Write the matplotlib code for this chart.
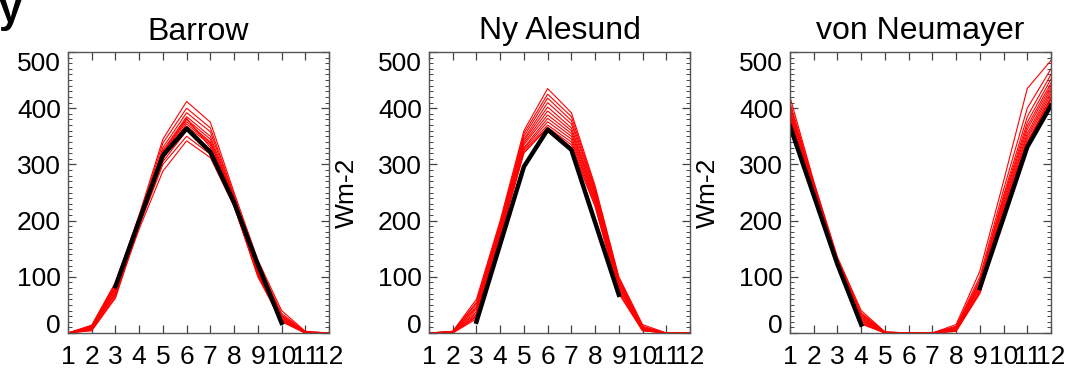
import numpy as np
import matplotlib.pyplot as plt
from matplotlib.ticker import MultipleLocator

months = list(range(1, 13))
stations = ["Barrow", "Ny Alesund", "von Neumayer"]

# observations (black), None where missing
barrow_obs = [None, None, 83, 200, 316, 364, 322, 232, 122, 18, None, None]
nyalesund_obs = [None, None, 20, 158, 296, 362, 326, 197, 68, None, None, None]
neumayer_obs = [368, 245, 122, 15, None, None, None, None, 80, 205, 331, 405]

# model runs (red)
barrow_models = [
    [0, 12, 88, 210, 345, 412, 375, 250, 130, 40, 3, 0],
    [0, 10, 80, 205, 338, 400, 365, 245, 125, 35, 2, 0],
    [0, 8, 75, 200, 330, 392, 358, 242, 122, 32, 2, 0],
    [0, 14, 90, 208, 325, 385, 350, 240, 118, 30, 1, 0],
    [0, 6, 70, 198, 320, 380, 345, 238, 115, 28, 1, 0],
    [0, 11, 85, 204, 318, 376, 340, 236, 112, 26, 0, 0],
    [0, 9, 78, 200, 315, 372, 338, 234, 110, 25, 0, 0],
    [0, 5, 65, 195, 310, 368, 335, 232, 108, 22, 0, 0],
    [0, 13, 82, 202, 322, 382, 330, 230, 105, 30, 1, 0],
    [0, 7, 72, 196, 305, 360, 325, 228, 102, 24, 0, 0],
    [0, 4, 62, 190, 300, 350, 318, 226, 100, 20, 0, 0],
    [0, 10, 68, 185, 288, 342, 312, 225, 104, 22, 0, 0],
]
nyalesund_models = [
    [0, 3, 60, 200, 360, 435, 392, 262, 100, 15, 0, 0],
    [0, 2, 55, 196, 355, 425, 385, 258, 98, 12, 0, 0],
    [0, 3, 52, 192, 350, 418, 378, 255, 95, 10, 0, 0],
    [0, 2, 48, 190, 345, 410, 372, 252, 92, 10, 0, 0],
    [0, 1, 45, 188, 342, 402, 365, 248, 90, 8, 0, 0],
    [0, 2, 42, 185, 338, 395, 360, 245, 88, 8, 0, 0],
    [0, 1, 38, 182, 335, 388, 355, 242, 85, 6, 0, 0],
    [0, 2, 35, 180, 330, 382, 350, 238, 82, 6, 0, 0],
    [0, 1, 32, 176, 328, 376, 345, 235, 80, 5, 0, 0],
    [0, 0, 30, 174, 325, 370, 340, 232, 76, 5, 0, 0],
    [0, 1, 28, 172, 322, 366, 335, 228, 72, 4, 0, 0],
    [0, 0, 25, 170, 320, 365, 330, 225, 70, 4, 0, 0],
]
neumayer_models = [
    [420, 270, 135, 40, 2, 0, 0, 15, 110, 270, 435, 485],
    [410, 268, 132, 36, 2, 0, 0, 12, 100, 255, 400, 470],
    [405, 265, 130, 34, 1, 0, 0, 10, 95, 245, 385, 460],
    [400, 262, 128, 32, 1, 0, 0, 10, 92, 240, 375, 452],
    [395, 260, 126, 30, 1, 0, 0, 8, 88, 235, 368, 445],
    [392, 258, 125, 28, 0, 0, 0, 8, 85, 230, 362, 440],
    [388, 256, 124, 26, 0, 0, 0, 6, 82, 226, 355, 435],
    [385, 254, 123, 24, 0, 0, 0, 6, 80, 222, 350, 430],
    [382, 252, 122, 22, 0, 0, 0, 5, 76, 218, 345, 425],
    [380, 251, 121, 20, 0, 0, 0, 4, 74, 215, 340, 420],
    [378, 250, 120, 18, 0, 0, 0, 3, 72, 212, 338, 418],
    [375, 250, 120, 16, 0, 0, 0, 3, 70, 210, 335, 415],
]

obs = [barrow_obs, nyalesund_obs, neumayer_obs]
models = [barrow_models, nyalesund_models, neumayer_models]

W, H = 1073, 374
fig = plt.figure(figsize=(W / 100, H / 100), dpi=100)
plt.rcParams['font.family'] = ['Liberation Sans', 'DejaVu Sans']

lefts = [68, 429, 790]
ax_w, top, bottom = 261, 52, 333

for k in range(3):
    ax = fig.add_axes([lefts[k] / W, 1 - bottom / H, ax_w / W, (bottom - top) / H])
    for run in models[k]:
        ax.plot(months, run, color="red", lw=0.8, solid_joinstyle="miter")
    o = np.array([np.nan if v is None else v for v in obs[k]], dtype=float)
    ax.plot(months, o, color="black", lw=3.2)

    ax.set_xlim(1, 12)
    ax.set_ylim(0, 500)
    ax.set_xticks(months)
    ax.set_xticklabels([str(m) for m in months], fontsize=19)
    ax.set_yticks([0, 100, 200, 300, 400, 500])
    ax.set_yticklabels(["0", "100", "200", "300", "400", "500"], fontsize=19)
    ax.yaxis.set_minor_locator(MultipleLocator(10))
    ax.tick_params(which="both", direction="in", top=True, right=True, color="#444444")
    ax.tick_params(which="major", length=6, width=0.9)
    ax.tick_params(which="minor", length=3, width=0.7)
    ax.tick_params(axis="x", pad=9)
    ax.tick_params(axis="y", pad=5)
    labs = ax.get_yticklabels()
    labs[0].set_va("baseline")
    labs[-1].set_va("top")
    for s in ax.spines.values():
        s.set_color("#555555")
        s.set_linewidth(1.0)
    ax.set_title(stations[k], fontsize=23, pad=9)
    if k > 0:
        ax.set_ylabel("Wm-2", fontsize=19, va="center")
        ax.yaxis.set_label_coords(-0.315, 0.5)

fig.text(22 / W, 1 - 22 / H, "y", fontsize=30, fontweight="bold", ha="right", va="baseline")

plt.savefig("out.png", dpi=100)
